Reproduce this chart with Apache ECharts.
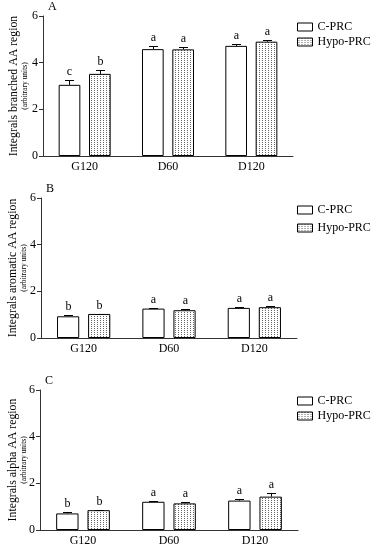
<!DOCTYPE html>
<html><head><meta charset="utf-8">
<script src="https://cdn.jsdelivr.net/npm/echarts@6/dist/echarts.min.js"></script>
<style>html,body{margin:0;padding:0;background:#fff}#c{width:380px;height:550px}</style>
</head><body><div id="c"></div>
<script>
const categories = ['G120', 'D60', 'D120'];
const seriesNames = ['C-PRC', 'Hypo-PRC'];
const panelLabels = ['A', 'B', 'C'];
const yNames = ['Integrals branched AA region', 'Integrals aromatic AA region', 'Integrals alpha AA region'];
const yTicks = [0, 2, 4, 6];

const A_cprc = [3.05, 4.58, 4.72];
const A_cprcErr = [0.20, 0.15, 0.10];
const A_hypo = [3.52, 4.57, 4.90];
const A_hypoErr = [0.16, 0.12, 0.09];
const A_cprcLetters = ['c', 'a', 'a'];
const A_hypoLetters = ['b', 'a', 'a'];

const B_cprc = [0.93, 1.26, 1.29];
const B_cprcErr = [0.05, 0.03, 0.04];
const B_hypo = [1.03, 1.19, 1.32];
const B_hypoErr = [0.02, 0.06, 0.05];
const B_cprcLetters = ['b', 'a', 'a'];
const B_hypoLetters = ['b', 'a', 'a'];

const C_cprc = [0.71, 1.21, 1.26];
const C_cprcErr = [0.06, 0.05, 0.05];
const C_hypo = [0.85, 1.14, 1.43];
const C_hypoErr = [0.02, 0.08, 0.17];
const C_cprcLetters = ['b', 'a', 'a'];
const C_hypoLetters = ['b', 'a', 'a'];

const panels = [
  {c: A_cprc, ce: A_cprcErr, h: A_hypo, he: A_hypoErr, cl: A_cprcLetters, hl: A_hypoLetters},
  {c: B_cprc, ce: B_cprcErr, h: B_hypo, he: B_hypoErr, cl: B_cprcLetters, hl: B_hypoLetters},
  {c: C_cprc, ce: C_cprcErr, h: C_hypo, he: C_hypoErr, cl: C_cprcLetters, hl: C_hypoLetters}
];

// dotted pattern
const pc = document.createElement('canvas');
pc.width = 3; pc.height = 2;
const pctx = pc.getContext('2d');
pctx.fillStyle = '#fff'; pctx.fillRect(0, 0, 3, 2);
pctx.fillStyle = '#666'; pctx.fillRect(1, 0, 1, 1);
const dotPattern = {image: pc, repeat: 'repeat'};

const FONT = 'Liberation Serif';
const grids = [
  {left: 43, right: 87, top: 16, height: 140, outerBoundsMode: 'none', containLabel: false},
  {left: 41, right: 83, top: 198, height: 140, outerBoundsMode: 'none', containLabel: false},
  {left: 40, right: 82, top: 390, height: 140, outerBoundsMode: 'none', containLabel: false}
];
const BAR_W = 0.26, GAP = 0.4;

const xAxis = [], yAxis = [], series = [], legend = [], title = [];
grids.forEach((g, i) => {
  xAxis.push({
    type: 'category', gridIndex: i, data: categories,
    axisLine: {lineStyle: {color: '#333', width: 1}},
    axisTick: {alignWithLabel: true, length: 4, lineStyle: {color: '#333'}},
    axisLabel: {color: '#000', fontFamily: FONT, fontSize: 12, margin: 5}
  });
  yAxis.push({
    type: 'value', gridIndex: i, min: 0, max: 6, interval: 2,
    name: '{a|' + yNames[i] + '}\n{b|(arbitrary units)}',
    nameLocation: 'middle', nameGap: 13 - i, nameRotate: 90, nameMoveOverlap: false,
    nameTextStyle: {rich: {
      a: {fontFamily: FONT, fontSize: 11.8, color: '#000', lineHeight: 12},
      b: {fontFamily: FONT, fontSize: 7.5, color: '#000', lineHeight: 10}
    }},
    axisLine: {show: true, lineStyle: {color: '#333'}},
    axisTick: {show: true, length: 4, lineStyle: {color: '#333'}},
    axisLabel: {color: '#000', fontFamily: FONT, fontSize: 12, margin: 5,
      formatter: v => yTicks.includes(v) ? String(v) : ''},
    splitLine: {show: false}
  });
  const p = panels[i];
  series.push({
    name: seriesNames[0], type: 'bar', xAxisIndex: i, yAxisIndex: i,
    data: p.c, barWidth: (BAR_W * 100) + '%', barGap: (GAP * 100) + '%',
    itemStyle: {color: '#fff', borderColor: '#000', borderWidth: 1}
  });
  series.push({
    name: seriesNames[1], type: 'bar', xAxisIndex: i, yAxisIndex: i,
    data: p.h, barWidth: (BAR_W * 100) + '%', barGap: (GAP * 100) + '%',
    itemStyle: {color: dotPattern, borderColor: '#000', borderWidth: 1}
  });
  [[p.c, p.ce, p.cl, -1], [p.h, p.he, p.hl, 1]].forEach(([vals, errs, letters, sign]) => {
    series.push({
      type: 'custom', xAxisIndex: i, yAxisIndex: i, z: 5, silent: true,
      data: vals.map((v, k) => [k, v, errs[k]]),
      encode: {x: 0, y: 1},
      renderItem: (params, api) => {
        const band = api.size([1, 0])[0];
        const w = band * BAR_W, gp = w * GAP;
        const off = sign * (w + gp) / 2;
        const base = api.coord([api.value(0), api.value(1)]);
        const top = api.coord([api.value(0), api.value(1) + api.value(2)]);
        const x = Math.round(base[0] + off) + 0.5;
        const ty = Math.round(top[1]) + 0.5;
        const st = {stroke: '#000', lineWidth: 1};
        return {type: 'group', children: [
          {type: 'line', shape: {x1: x, y1: base[1], x2: x, y2: ty}, style: st},
          {type: 'line', shape: {x1: x - 4.5, y1: ty, x2: x + 4.5, y2: ty}, style: st},
          {type: 'text', style: {x: x, y: ty - 9, text: letters[params.dataIndex],
            textAlign: 'center', textVerticalAlign: 'middle',
            font: '12px "' + FONT + '"', fill: '#000'}}
        ]};
      }
    });
  });
  legend.push({
    data: seriesNames, orient: 'vertical', left: 297, top: g.top + 5 + (i === 1 ? 1 : 0),
    padding: 0, icon: 'rect', itemWidth: 15, itemHeight: 8, itemGap: i === 1 ? 6 : 3,
    itemStyle: {borderWidth: 1, borderColor: '#000'},
    textStyle: {fontFamily: FONT, fontSize: 12, color: '#000', padding: [0, 0, 0, 0]},
    selectedMode: false
  });
  title.push({
    text: panelLabels[i], left: g.left + 5, top: g.top - 15, padding: 0,
    textStyle: {fontFamily: FONT, fontSize: 12, fontWeight: 'normal', color: '#000'}
  });
});

const chart = echarts.init(document.getElementById('c'), null, {renderer: 'canvas'});
chart.setOption({
  animation: false, backgroundColor: '#fff',
  title, legend, grid: grids, xAxis, yAxis, series
});
</script></body></html>
